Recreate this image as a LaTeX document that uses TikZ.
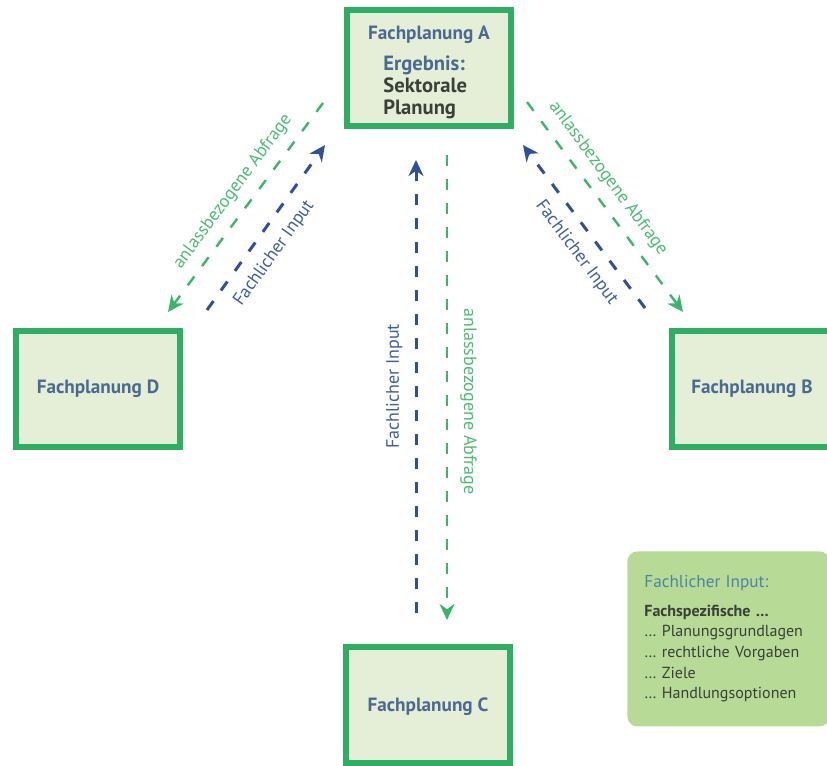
\documentclass[tikz,border=0pt]{standalone}
\usepackage{fontspec}
\setmainfont{PT Sans}
\usepackage{xcolor}
\usetikzlibrary{arrows.meta}
\definecolor{fpstroke}{HTML}{2FAD63}
\definecolor{fpfill}{HTML}{E5EED6}
\definecolor{fptext}{HTML}{4B6A93}
\definecolor{darktext}{HTML}{3A3F3A}
\definecolor{arrgreen}{HTML}{3DB36B}
\definecolor{arrblue}{HTML}{2F4F99}
\definecolor{labgreen}{HTML}{4DBB75}
\definecolor{labblue}{HTML}{3D5DA5}
\definecolor{legfill}{HTML}{B7DA96}
\definecolor{legtitle}{HTML}{4A86A0}
\tikzset{
  fp/.style     = {draw=fpstroke, fill=fpfill, line width=2.8pt,
                   minimum width=82pt, minimum height=58pt, inner sep=0pt},
  fptxt/.style  = {font=\bfseries\fontsize{9.6}{11}\selectfont, text=fptext, inner sep=0pt},
  ergtxt/.style = {font=\bfseries\fontsize{10.3}{11}\selectfont, text=darktext,
                   align=left, inner sep=0pt},
  arrg/.style   = {-{Stealth[length=8pt,width=7.5pt]}, line width=1.2pt,
                   dash pattern=on 5.5pt off 6.5pt, draw=arrgreen},
  arrb/.style   = {-{Stealth[length=8pt,width=7.5pt]}, line width=1.5pt,
                   dash pattern=on 5.5pt off 6.5pt, draw=arrblue},
  glab/.style   = {font=\fontsize{9}{10}\selectfont, text=labgreen, inner sep=0pt, sloped},
  blab/.style   = {font=\fontsize{9}{10}\selectfont, text=labblue, inner sep=0pt, sloped},
  legend/.style = {fill=legfill, rounded corners=5pt, align=left, text width=84pt,
                   inner xsep=8pt, minimum width=101pt, minimum height=87.5pt,
                   font=\fontsize{8}{10.3}\selectfont, text=darktext},
}

\begin{document}
\begin{tikzpicture}[x=0.5pt,y=-0.5pt]
  \useasboundingbox (0,0) rectangle (827,766);

  % --- Fachplanungen ---
  \node[fp] (fpa) at (429,68) {};
  \node[fptxt] (fpatit) at (429,35) {Fachplanung A};
  \node[ergtxt, anchor=west] (erg) at (383,87)
    {\textcolor{fptext}{Ergebnis:}\\Sektorale\\Planung};
  \node[fp] (fpd) at (98,389) {};
  \node[fptxt] at (fpd) {Fachplanung D};
  \node[fp] (fpb) at (754,389) {};
  \node[fptxt] at (752,389) {Fachplanung B};
  \node[fp] (fpc) at (428,705) {};
  \node[fptxt] at (428,707) {Fachplanung C};

  % --- arrow ends ---
  \coordinate (ad1) at (323,103);
  \coordinate (ad2) at (168,312);
  \coordinate (da1) at (207,310);
  \coordinate (da2) at (325,145);
  \coordinate (ab1) at (527,102);
  \coordinate (ab2) at (683,312);
  \coordinate (ba1) at (645,308);
  \coordinate (ba2) at (523,145);
  \coordinate (ca1) at (416,613);
  \coordinate (ca2) at (416,160);
  \coordinate (ac1) at (447,155);
  \coordinate (ac2) at (447,620);

  % --- A <-> D ---
  \draw[arrg] (ad1) -- node[glab, above=5pt, pos=0.48] {anlassbezogene Abfrage} (ad2);
  \draw[arrb] (da1) -- node[blab, below=6pt, pos=0.42] {Fachlicher Input} (da2);

  % --- A <-> B ---
  \draw[arrg] (ab1) -- node[glab, above=5pt, pos=0.42] {anlassbezogene Abfrage} (ab2);
  \draw[arrb] (ba1) -- node[blab, below=6pt, pos=0.42] {Fachlicher Input} (ba2);

  % --- A <-> C ---
  \draw[arrb] (ca1) -- node[blab, above=6pt, pos=0.50] {Fachlicher Input} (ca2);
  \draw[arrg] (ac1) -- node[glab, above=6pt, pos=0.53] {anlassbezogene Abfrage} (ac2);

  % --- legend ---
  \node[legend, anchor=north west] (leg) at (627,551)
    {{\fontsize{8.6}{10.3}\selectfont\textcolor{legtitle}{Fachlicher Input:}}\\[4pt]
     {\bfseries Fachspezifische …}\\
     … Planungsgrundlagen\\
     … rechtliche Vorgaben\\
     … Ziele\\
     … Handlungsoptionen};
\end{tikzpicture}
\end{document}
